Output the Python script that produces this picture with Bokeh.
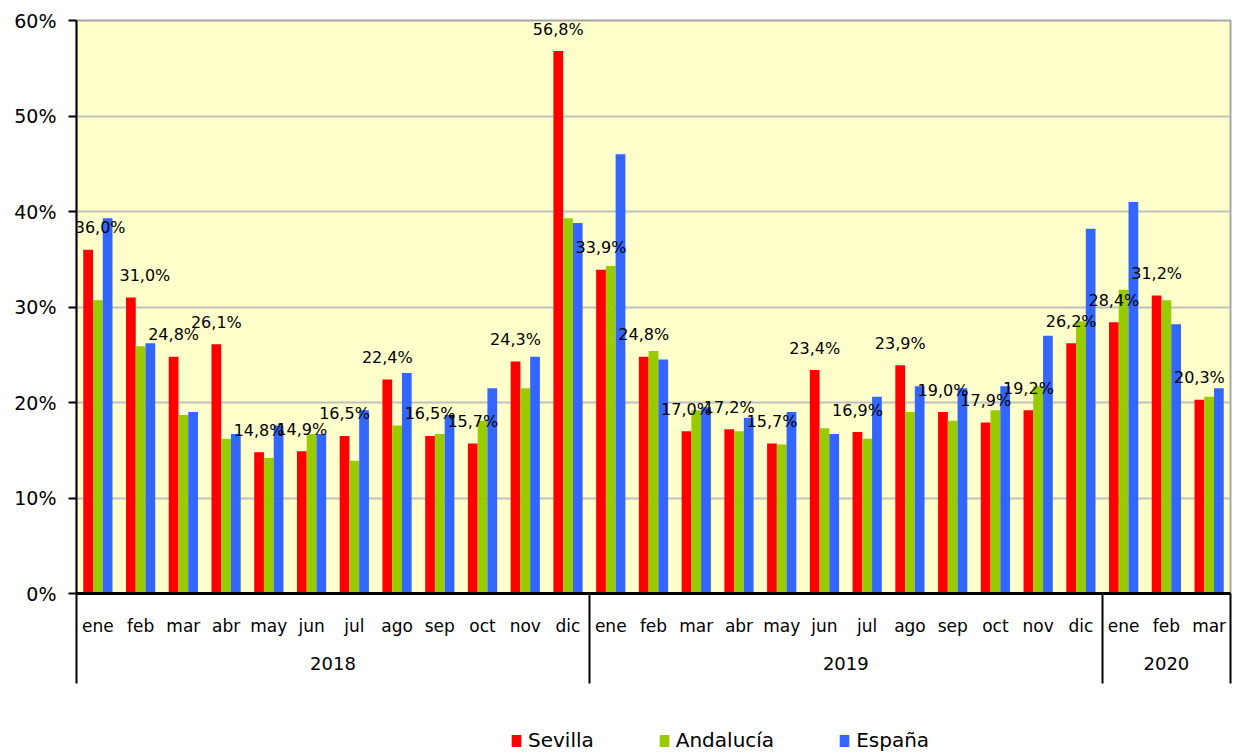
from bokeh.plotting import figure
from bokeh.layouts import column
from bokeh.models import (ColumnDataSource, Range1d, LinearAxis, FixedTicker,
                          PrintfTickFormatter, Legend, LegendItem)
from bokeh.transform import dodge
from bokeh.core.properties import value
from bokeh.embed import file_html
from bokeh.resources import INLINE

# ---------------- data ----------------
years = ["2018", "2019", "2020"]
months_per_year = [12, 12, 3]
month_names = ["ene", "feb", "mar", "abr", "may", "jun", "jul", "ago", "sep", "oct", "nov", "dic"]
months = month_names + month_names + month_names[:3]

sevilla = [36.0, 31.0, 24.8, 26.1, 14.8, 14.9, 16.5, 22.4, 16.5, 15.7, 24.3, 56.8,
           33.9, 24.8, 17.0, 17.2, 15.7, 23.4, 16.9, 23.9, 19.0, 17.9, 19.2, 26.2,
           28.4, 31.2, 20.3]
andalucia = [30.7, 25.9, 18.7, 16.2, 14.2, 16.7, 13.9, 17.6, 16.7, 18.1, 21.5, 39.3,
             34.3, 25.4, 19.2, 17.0, 15.6, 17.3, 16.2, 19.0, 18.1, 19.2, 21.7, 28.5,
             31.8, 30.7, 20.6]
espana = [39.3, 26.2, 19.0, 16.7, 17.6, 16.7, 19.2, 23.1, 18.7, 21.5, 24.8, 38.8,
          46.0, 24.5, 19.5, 18.4, 19.0, 16.7, 20.6, 21.7, 21.5, 21.7, 27.0, 38.2,
          41.0, 28.2, 21.5]
series_names = ["Sevilla", "Andalucía", "España"]
series_colors = ["#FF0000", "#99CC00", "#3366FF"]
y_ticks = [0, 10, 20, 30, 40, 50, 60]

# ---------------- derived ----------------
n = len(months)
xs = list(range(n))
labels = [("%.1f" % v).replace(".", ",") + "%" for v in sevilla]
# small manual nudges (pixels) of the first two data labels, as in the original
nudge = {0: 12, 1: 14}
dx = [nudge.get(i, 0) for i in xs]
src = ColumnDataSource(dict(x=xs, sev=sevilla, anda=andalucia, esp=espana, lab=labels, dx=dx))
cols = ["sev", "anda", "esp"]

bounds = [-0.5]
centers = []
start = 0
for cnt in months_per_year:
    centers.append(start + (cnt - 1) / 2.0)
    start += cnt
    bounds.append(start - 0.5)

FONT = "DejaVu Sans"
BW = 0.228

p = figure(width=1233, height=700, x_range=Range1d(-0.5, n - 0.5), y_range=Range1d(0, 60),
           output_backend="svg", toolbar_location=None, x_axis_location=None,
           min_border_left=76, min_border_right=3, min_border_top=20, min_border_bottom=107)
p.background_fill_color = "#FFFFCC"
p.border_fill_color = "white"
p.outline_line_color = "#A6A6A6"
p.outline_line_width = 2

for col, off, c in zip(cols, [-BW, 0, BW], series_colors):
    p.vbar(x=dodge("x", off, range=p.x_range), top=col, width=BW, source=src,
           fill_color=c, line_color=None)

p.text(x=dodge("x", -BW, range=p.x_range), y="sev", text="lab", source=src,
       x_offset="dx", text_align="center", text_baseline="middle", y_offset=-22,
       text_font=value(FONT), text_font_size="16px", text_color="black")

# y axis
yax = p.yaxis[0]
yax.ticker = FixedTicker(ticks=y_ticks)
yax.formatter = PrintfTickFormatter(format="%d%%")
yax.axis_line_color = "black"
yax.axis_line_width = 2
yax.major_tick_out = 8
yax.major_tick_in = 0
yax.major_tick_line_color = "black"
yax.major_tick_line_width = 2
yax.minor_tick_line_color = None
yax.major_label_standoff = 12
yax.major_label_text_font = FONT
yax.major_label_text_font_size = "19px"
yax.major_label_text_color = "black"

p.ygrid.ticker = FixedTicker(ticks=y_ticks)
p.ygrid.grid_line_color = "#C0C0C0"
p.ygrid.grid_line_width = 2
p.xgrid.visible = False

# month axis (year separators drawn as long minor ticks)
ax_m = LinearAxis(ticker=FixedTicker(ticks=xs, minor_ticks=bounds),
                  major_label_overrides={i: m for i, m in enumerate(months)})
ax_m.axis_line_color = "black"
ax_m.axis_line_width = 3
ax_m.major_tick_line_color = None
ax_m.major_tick_out = 0
ax_m.major_tick_in = 0
ax_m.minor_tick_out = 90
ax_m.minor_tick_in = 0
ax_m.minor_tick_line_color = "black"
ax_m.minor_tick_line_width = 2
ax_m.major_label_standoff = -68
ax_m.major_label_text_font = FONT
ax_m.major_label_text_font_size = "17px"
ax_m.major_label_text_color = "black"
p.add_layout(ax_m, "below")

# year axis
ax_y = LinearAxis(ticker=FixedTicker(ticks=centers, minor_ticks=[]),
                  major_label_overrides={c: y for c, y in zip(centers, years)})
ax_y.axis_line_color = None
ax_y.major_tick_line_color = None
ax_y.minor_tick_line_color = None
ax_y.major_tick_out = 0
ax_y.major_tick_in = 0
ax_y.major_label_standoff = 18
ax_y.major_label_text_font = FONT
ax_y.major_label_text_font_size = "18px"
ax_y.major_label_text_color = "black"
p.add_layout(ax_y, "below")

# ---------------- legend strip ----------------
pl = figure(width=1233, height=53, output_backend="svg", toolbar_location=None,
            min_border_left=0, min_border_right=0, min_border_top=0, min_border_bottom=0,
            x_range=Range1d(-0.5, n - 0.5), y_range=Range1d(0, 60))
pl.axis.visible = False
pl.grid.visible = False
pl.outline_line_color = None
pl.background_fill_color = "white"
items = []
for name, col, c in zip(series_names, cols, series_colors):
    r = pl.vbar(x="x", top=col, width=BW, source=src, fill_color=c, line_color=None,
                visible=False)
    items.append(LegendItem(label=name, renderers=[r]))
legend = Legend(items=items, orientation="horizontal", location=(434, 1))
legend.background_fill_alpha = 0
legend.border_line_color = None
legend.glyph_width = 12
legend.glyph_height = 15
legend.label_standoff = 6
legend.spacing = 64
legend.padding = 0
legend.margin = 0
legend.label_text_font = FONT
legend.label_text_font_size = "20px"
legend.label_text_color = "black"
pl.add_layout(legend)

layout = column(p, pl, spacing=0)
open("out.html", "w").write(file_html(layout, INLINE))
